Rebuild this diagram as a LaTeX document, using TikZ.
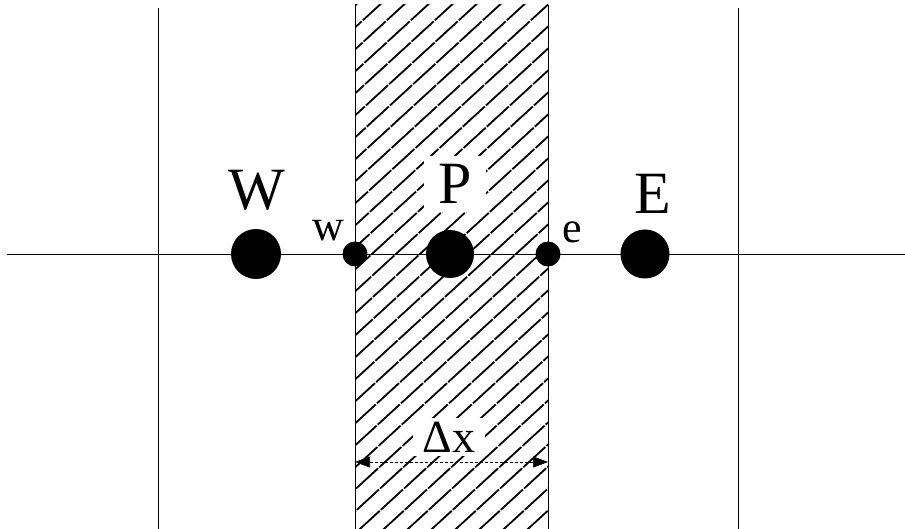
\documentclass[tikz,border=0pt]{standalone}
\usepackage{fontspec}
\setmainfont{Liberation Serif}
\usetikzlibrary{arrows.meta}
\begin{document}
\begin{tikzpicture}[x=1pt,y=-1pt,
  gridline/.style={line width=0.9pt,black},
  bignode/.style={circle,fill=black,inner sep=0pt,minimum size=#1},
  biglabel/.style={font=\fontsize{60}{60}\selectfont,inner sep=0pt},
  smalllabel/.style={font=\fontsize{44}{44}\selectfont,inner sep=0pt},
  hatchline/.style={line width=1.8pt,dash pattern=on 30pt off 1.5pt},
  dimline/.style={line width=0.6pt,dash pattern=on 3pt off 2pt,{Triangle[length=15pt,width=11pt]}-{Triangle[length=15pt,width=11pt]}}]
\useasboundingbox (0,0) rectangle (905,529);
% hatched control volume
\begin{scope}
  \clip (355,5) rectangle (548,529);
  \foreach \s in {361,385,...,1140}
    \draw[hatchline] (\s,0) -- ++(-600,550);
\end{scope}
% grid lines
\coordinate (hl) at (7,254);
\coordinate (hr) at (905,254);
\draw[gridline] (hl) -- (hr);
\coordinate (v1t) at (158,8);   \coordinate (v1b) at (158,529);
\coordinate (v2t) at (355,5);   \coordinate (v2b) at (355,529);
\coordinate (v3t) at (548,5);   \coordinate (v3b) at (548,529);
\coordinate (v4t) at (738,8);   \coordinate (v4b) at (738,529);
\draw[gridline] (v1t) -- (v1b);
\draw[gridline] (v2t) -- (v2b);
\draw[gridline] (v3t) -- (v3b);
\draw[gridline] (v4t) -- (v4b);
% nodes
\node[bignode=50pt] (W) at (256,254) {};
\node[bignode=48pt] (P) at (450,254) {};
\node[bignode=49pt] (E) at (645,254) {};
\node[bignode=25pt] (w) at (355,254) {};
\node[bignode=25pt] (e) at (548,254) {};
% labels
\node[biglabel] (Wl) at (257,190) {W};
\node[biglabel,fill=white,inner xsep=14pt,inner ysep=8pt] (Pl) at (455,184) {P};
\node[biglabel] (El) at (653,194) {E};
\node[smalllabel] (wl) at (328,231) {w};
\node[smalllabel] (el) at (572,232) {e};
% dimension
\coordinate (dl) at (355,462);
\coordinate (dr) at (548,462);
\node[smalllabel,font=\fontsize{46}{46}\selectfont,fill=white,inner xsep=10pt,inner ysep=4pt] (dx) at (449,437) {Δx};
\draw[dimline] (dl) -- (dr);
\end{tikzpicture}
\end{document}
